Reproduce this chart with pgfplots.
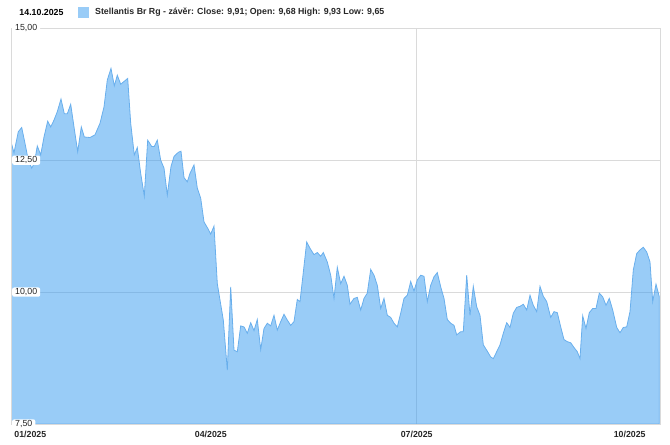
\documentclass[border=0pt]{standalone}
\usepackage{fontspec}
\setmainfont{Liberation Sans}
\usepackage{pgfplots}
\pgfplotsset{compat=1.18}
\definecolor{lineblue}{RGB}{105,175,236}
\definecolor{areablue}{RGB}{51,153,240}
\definecolor{keyblue}{RGB}{153,204,247}
\definecolor{gridgray}{RGB}{218,218,218}
\newcommand{\chartfont}{\fontsize{8.8bp}{10bp}\selectfont}
% grid below the area, tick labels above it
\pgfplotsset{
    layers/chartlayers/.define layer set={
        axis background,axis grid,main,axis ticks,axis lines,
        axis tick labels,axis descriptions,axis foreground
    }{/pgfplots/layers/standard},
}
\begin{document}
\begin{tikzpicture}
\begin{axis}[
    set layers=chartlayers,
    scale only axis,
    width=649bp, height=395.7bp,
    xmin=11, xmax=660,
    ymin=7.5, ymax=15,
    axis line style={draw=gridgray},
    major tick length=0pt,
    ytick={7.5,10,12.5,15},
    yticklabels={{7,50},{10,00},{12,50},{15,00}},
    ymajorgrids,
    major grid style={draw=gridgray, line width=0.8bp},
    xtick={30.3,210.8,416.7,629.7},
    xticklabels={01/2025,04/2025,07/2025,10/2025},
    extra x ticks={416},
    extra x tick labels={},
    extra x tick style={xmajorgrids=true},
    /pgf/number format/assume math mode=true,
    yticklabel style={font=\chartfont, text=black!85, anchor=west, xshift=1bp,
        fill=white, rounded corners=2bp, inner xsep=3bp, inner ysep=1bp},
    xticklabel style={font=\chartfont\bfseries, text=black!85, anchor=center, yshift=-10bp},
]
% Stellantis closing price
\addplot[draw=lineblue, line width=0.8bp, fill=areablue, fill opacity=0.5] table {
11 12.85
14 12.64
18.3 13.04
21.7 13.12
25 12.82
28.3 12.50
31.7 12.35
34.3 12.44
37.3 12.77
40.7 12.60
44 12.94
47.7 13.24
50.7 13.13
54 13.26
57.3 13.42
61 13.66
64.3 13.38
67.3 13.38
70.7 13.56
74 13.13
77.7 12.66
81.3 13.13
84.3 12.94
90 12.93
95 12.98
100 13.20
104 13.51
107.3 14.02
111 14.24
114.3 13.91
117.3 14.11
120.7 13.94
127.7 14.05
130.7 13.20
134.3 12.60
137.3 12.74
140.7 12.25
144.3 11.82
147.7 12.88
151.7 12.76
154.3 12.76
157.3 12.88
160.7 12.50
164 12.35
167.3 11.84
171 12.38
174 12.57
178.3 12.65
181 12.67
184 12.17
187.3 12.09
190 12.25
194 12.41
197.3 11.97
200.7 11.78
204 11.33
207.7 11.21
210.7 11.10
214 11.25
217.3 10.16
223.3 9.47
227.3 8.52
230.7 10.10
234 8.90
237.3 8.87
240.7 9.36
244 9.34
247.3 9.22
250.7 9.42
254 9.27
257.3 9.48
260.7 8.91
264 9.31
267.3 9.41
270.7 9.36
274 9.56
277.3 9.28
280.7 9.44
284 9.58
287.3 9.47
290.7 9.37
294 9.44
297.3 9.86
300 9.82
306.7 10.95
310 10.83
314 10.71
317.3 10.75
320.7 10.68
323.3 10.75
327.3 10.57
330.7 10.32
334 9.88
337.3 10.47
340.7 10.16
344 10.30
347.3 10.13
350 9.77
354 9.88
357.3 9.90
360.7 9.66
364 9.88
367.3 9.98
370.7 10.43
374 10.32
377.3 10.13
380.7 9.69
384 9.88
387.3 9.56
390.7 9.52
394 9.41
397.3 9.34
400.7 9.60
404 9.88
407.3 9.94
410.7 10.20
414 10.02
417.3 10.23
420.7 10.32
424 10.30
427.3 9.82
430.7 10.13
434 10.29
437.3 10.37
440.7 10.10
444 9.88
447.3 9.48
450.7 9.41
454 9.37
456.7 9.19
460.7 9.25
463.3 9.25
466.7 10.32
470 9.56
473.3 10.11
476.7 9.72
480 9.56
483.3 9.00
487.3 8.88
490.7 8.77
493.3 8.74
496.7 8.87
500 9.00
503.3 9.22
506.7 9.42
510 9.33
513.3 9.60
516.7 9.71
520 9.73
523.3 9.77
526.7 9.66
530 9.94
533.3 9.75
536.7 9.63
540 10.11
543.3 9.92
546.7 9.82
550.7 9.52
554 9.63
557.3 9.61
560.7 9.34
564 9.10
567.3 9.06
570.7 9.04
574 8.95
577.3 8.87
580 8.74
582.7 9.55
586 9.31
589.3 9.61
592.7 9.69
596 9.69
599.3 9.98
602.7 9.91
606 9.75
609.3 9.88
612.7 9.66
616.7 9.33
620 9.23
623.3 9.33
626.7 9.34
630 9.63
633.3 10.42
636.7 10.73
640 10.80
643.3 10.85
646.7 10.76
650 10.57
652.7 9.82
656 10.15
659.3 9.91
} \closedcycle;
\end{axis}
% header line
\node[anchor=west, inner sep=0pt, font=\chartfont\bfseries] at (8.3bp,412bp) {14.10.2025};
\fill[keyblue] (66.7bp,405.7bp) rectangle (78.3bp,416.7bp);
\node[anchor=west, inner sep=0pt, font=\chartfont\bfseries, text=black!85] at (84bp,412bp)
    {Stellantis Br Rg - závěr: Close: 9,91; Open: 9,68 High: 9,93 Low: 9,65};
\pgfresetboundingbox
\path[use as bounding box] (-11bp,-21bp) rectangle (659bp,424bp);
\end{tikzpicture}
\end{document}
